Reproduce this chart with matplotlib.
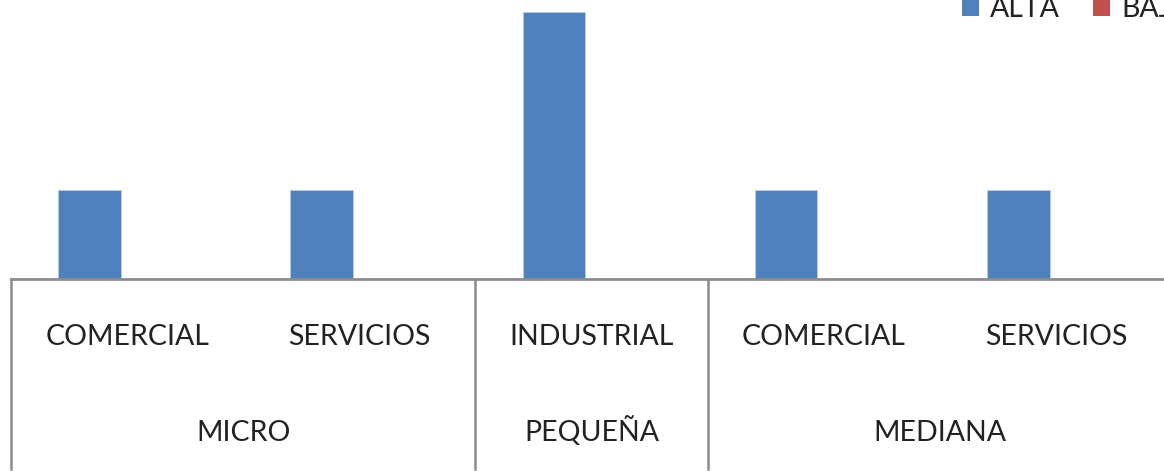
import matplotlib
matplotlib.use("Agg")
import matplotlib.pyplot as plt
from matplotlib.patches import Rectangle

# ---- data ----
subcategories = ["COMERCIAL", "SERVICIOS", "INDUSTRIAL", "COMERCIAL", "SERVICIOS"]
groups = ["MICRO", "PEQUEÑA", "MEDIANA"]
group_sizes = [2, 1, 2]
series_names = ["ALTA", "BAJA"]
alta = [1, 1, 3, 1, 1]
baja = [0, 0, 0, 0, 0]
colors = ["#4F81BD", "#C0504D"]

plt.rcParams['font.family'] = ['Lato', 'DejaVu Sans']

W, H = 1164, 471
fig = plt.figure(figsize=(W / 100, H / 100), dpi=100)
ax_left, ax_right, ax_base = 11, 1172, 279
ax = fig.add_axes([ax_left / W, (H - ax_base) / H, (ax_right - ax_left) / W, ax_base / H])

n = len(subcategories)
x = list(range(n))
bw = 0.27
off = 0.162
ax.bar([i - off for i in x], alta, width=bw, color=colors[0], edgecolor="#B9CDE5", linewidth=0.6, zorder=3)
ax.bar([i - off + bw for i in x], baja, width=bw, color=colors[1], zorder=3)

ax.set_xlim(-0.5, n - 0.5)
ax.set_ylim(0, 3.135)
for s in ["top", "right", "left", "bottom"]:
    ax.spines[s].set_visible(False)
ax.set_xticks([])
ax.set_yticks([])

gray = "#8C8C8C"
ax.plot([-0.5, n - 0.5], [0, 0], color=gray, lw=2, clip_on=False, zorder=4)

fs = 20.5
tc = "#222222"
for i, lab in enumerate(subcategories):
    ax.text(i, -0.2366, lab, transform=ax.get_xaxis_transform(), ha="center", va="baseline",
            fontsize=fs, color=tc)

start = 0
bounds = [-0.5]
for g, sz in zip(groups, group_sizes):
    center = start + (sz - 1) / 2
    ax.text(center, -0.5806, g, transform=ax.get_xaxis_transform(), ha="center", va="baseline",
            fontsize=fs, color=tc)
    start += sz
    bounds.append(start - 0.5)
for b in bounds:
    ax.plot([b, b], [0, -0.68], transform=ax.get_xaxis_transform(), color=gray, lw=1.8, clip_on=False)

# legend (cut off at top/right like reference)
leg = [(962, colors[0], series_names[0]), (1093, colors[1], series_names[1])]
for px, c, name in leg:
    fig.add_artist(Rectangle((px / W, (H - 16) / H), 17 / W, 17 / H, transform=fig.transFigure,
                             facecolor=c, edgecolor="none"))
    fig.text((px + 28) / W, (H - 17) / H, name, ha="left", va="baseline", fontsize=fs, color=tc)

fig.savefig("out.png", dpi=100)
